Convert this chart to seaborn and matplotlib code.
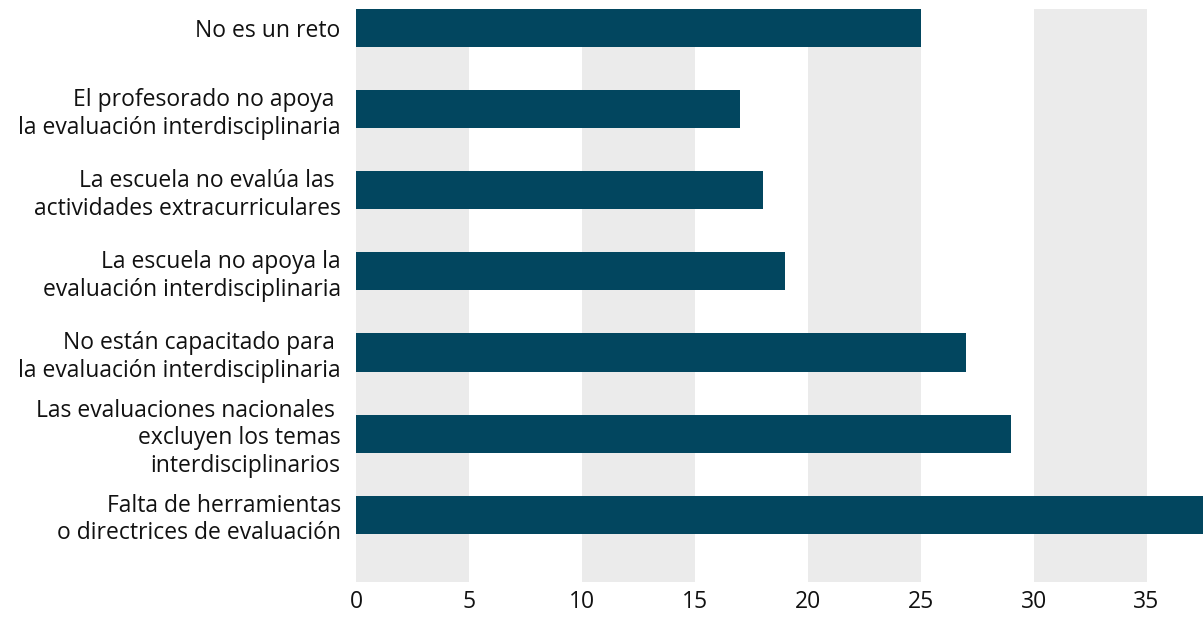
import matplotlib.pyplot as plt
import seaborn as sns
import pandas as pd

categories = [
    "No es un reto",
    "El profesorado no apoya \nla evaluación interdisciplinaria",
    "La escuela no evalúa las \nactividades extracurriculares",
    "La escuela no apoya la\nevaluación interdisciplinaria",
    "No están capacitado para \nla evaluación interdisciplinaria",
    "Las evaluaciones nacionales \nexcluyen los temas\ninterdisciplinarios",
    "Falta de herramientas\no directrices de evaluación",
]
values = [25, 17, 18, 19, 27, 29, 38]
xticks = [0, 5, 10, 15, 20, 25, 30, 35]

df = pd.DataFrame({"reto": categories, "valor": values})

sns.set_style("white")
plt.rcParams['font.family'] = ['Open Sans', 'DejaVu Sans']

fig = plt.figure(figsize=(12.03, 6.17), dpi=100)
ax = fig.add_axes([356 / 1203, 1 - 582 / 617, (1203 - 356) / 1203, (582 - 9) / 617])

# alternating grey bands
for x0 in range(0, 35, 10):
    ax.axvspan(x0, x0 + 5, color='#ebebeb', zorder=0, lw=0)

sns.barplot(data=df, y="reto", x="valor", orient="h", color='#02465f',
            saturation=1, width=0.47, linewidth=0, ax=ax, zorder=2)

ax.set_xlim(0, 37.5)
ax.set_ylim(6.83, -0.235)
ax.set_xticks(xticks)
ax.set_xlabel("")
ax.set_ylabel("")
ax.tick_params(axis='both', length=0, labelsize=16.5, colors='#111111')
ax.tick_params(axis='x', pad=6)
ax.tick_params(axis='y', pad=11)
for lbl in ax.get_yticklabels():
    lbl.set_horizontalalignment('right')
    lbl.set_multialignment('right')
for s in ax.spines.values():
    s.set_visible(False)

plt.savefig("out.png", dpi=100)
